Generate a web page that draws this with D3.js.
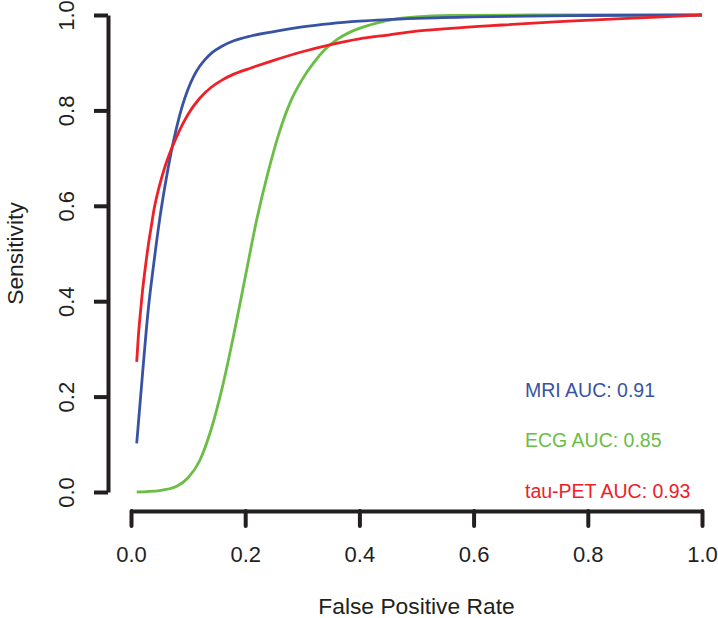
<!DOCTYPE html>
<html>
<head>
<meta charset="utf-8">
<script src="https://cdn.jsdelivr.net/npm/d3@7"></script>
<style>
  html, body { margin: 0; padding: 0; background: #fff; }
  svg { display: block; font-family: "Liberation Sans", Arial, Helvetica, sans-serif; }
</style>
</head>
<body>
<svg id="chart" width="718" height="618"></svg>
<script>
// ---- Data ----
const mriFpr  = [0.01, 0.02, 0.03, 0.04, 0.05, 0.06, 0.07, 0.08, 0.09, 0.10, 0.11, 0.12, 0.13, 0.14, 0.16, 0.18, 0.21, 0.25, 0.30, 0.35, 0.40, 0.50, 0.60, 0.80, 1.0];
const mriSens = [0.102, 0.245, 0.38, 0.48, 0.57, 0.645, 0.71, 0.765, 0.81, 0.845, 0.872, 0.892, 0.907, 0.919, 0.935, 0.946, 0.956, 0.965, 0.975, 0.982, 0.987, 0.993, 0.996, 0.999, 1.0];

const ecgFpr  = [0.01, 0.05, 0.08, 0.10, 0.12, 0.14, 0.16, 0.18, 0.20, 0.22, 0.24, 0.26, 0.28, 0.30, 0.32, 0.34, 0.36, 0.38, 0.40, 0.43, 0.46, 0.50, 0.56, 0.70, 1.0];
const ecgSens = [0.0, 0.003, 0.012, 0.03, 0.065, 0.13, 0.22, 0.33, 0.45, 0.57, 0.67, 0.755, 0.82, 0.865, 0.90, 0.928, 0.948, 0.962, 0.972, 0.983, 0.991, 0.996, 0.999, 1.0, 1.0];

const petFpr  = [0.01, 0.0125, 0.016, 0.02, 0.025, 0.03, 0.035, 0.04, 0.05, 0.06, 0.07, 0.08, 0.09, 0.10, 0.12, 0.14, 0.16, 0.18, 0.21, 0.25, 0.30, 0.35, 0.40, 0.45, 0.50, 0.56, 0.65, 0.75, 0.85, 0.93, 1.0];
const petSens = [0.273, 0.32, 0.37, 0.42, 0.47, 0.515, 0.553, 0.59, 0.643, 0.684, 0.717, 0.745, 0.77, 0.792, 0.825, 0.848, 0.864, 0.876, 0.889, 0.905, 0.923, 0.938, 0.95, 0.958, 0.966, 0.972, 0.979, 0.986, 0.992, 0.996, 1.0];

const seriesNames = ["ECG", "MRI", "tau-PET"];
const legendNames = ["MRI", "ECG", "tau-PET"];
const legendAuc   = [0.91, 0.85, 0.93];
const legendY     = [0.2, 0.094, -0.013];

const xTickValues = [0.0, 0.2, 0.4, 0.6, 0.8, 1.0];
const yTickValues = [0.0, 0.2, 0.4, 0.6, 0.8, 1.0];

// ---- Styling ----
const colors = { "MRI": "#3953a4", "ECG": "#6abd45", "tau-PET": "#ee2028" };
const axisColor = "#231f20";

const svg = d3.select("#chart");
const x = d3.scaleLinear().domain([0, 1]).range([131, 702]);
const y = d3.scaleLinear().domain([0, 1]).range([492, 15]);

const series = {
  "MRI": d3.zip(mriFpr, mriSens),
  "ECG": d3.zip(ecgFpr, ecgSens),
  "tau-PET": d3.zip(petFpr, petSens)
};

const line = d3.line()
  .x(d => x(d[0]))
  .y(d => y(d[1]))
  .curve(d3.curveMonotoneX);

// curves
seriesNames.forEach(name => {
  svg.append("path")
    .datum(series[name])
    .attr("d", line)
    .attr("fill", "none")
    .attr("stroke", colors[name])
    .attr("stroke-width", 2.8)
    .attr("stroke-linejoin", "round");
});

// y axis
const yAxisG = svg.append("g")
  .attr("transform", "translate(108,0)")
  .call(d3.axisLeft(y).tickValues(yTickValues).tickFormat(d3.format(".1f")).tickSize(14).tickSizeOuter(0).tickPadding(0));
yAxisG.select(".domain").attr("stroke", axisColor).attr("stroke-width", 4);
yAxisG.selectAll(".tick line").attr("stroke", axisColor).attr("stroke-width", 4);
yAxisG.selectAll(".tick text")
  .attr("transform", "rotate(-90)")
  .attr("x", 0).attr("y", -34).attr("dy", 0)
  .attr("text-anchor", "middle")
  .attr("fill", axisColor)
  .style("font-size", "22px")
  .style("font-family", "'Liberation Sans', Arial, sans-serif");

// x axis
const xAxisG = svg.append("g")
  .attr("transform", "translate(0,511)")
  .call(d3.axisBottom(x).tickValues(xTickValues).tickFormat(d3.format(".1f")).tickSize(15).tickSizeOuter(0).tickPadding(0));
xAxisG.select(".domain").attr("stroke", axisColor).attr("stroke-width", 4);
xAxisG.selectAll(".tick line").attr("stroke", axisColor).attr("stroke-width", 4).attr("stroke-linecap", "round");
xAxisG.selectAll(".tick text")
  .attr("y", 51).attr("dy", 0)
  .attr("fill", axisColor)
  .style("font-size", "22px")
  .style("font-family", "'Liberation Sans', Arial, sans-serif");

// axis titles
svg.append("text")
  .attr("x", (x(0) + x(1)) / 2).attr("y", 614)
  .attr("text-anchor", "middle")
  .attr("fill", axisColor)
  .style("font-size", "22.8px")
  .text("False Positive Rate");

svg.append("text")
  .attr("transform", `translate(23,${(y(0) + y(1)) / 2}) rotate(-90)`)
  .attr("text-anchor", "middle")
  .attr("fill", axisColor)
  .style("font-size", "22.8px")
  .text("Sensitivity");

// AUC labels
legendNames.forEach((name, i) => {
  svg.append("text")
    .attr("x", x(0.69)).attr("y", y(legendY[i]))
    .attr("fill", colors[name])
    .style("font-size", "19.5px")
    .text(`${name} AUC: ${legendAuc[i].toFixed(2)}`);
});
</script>
</body>
</html>
